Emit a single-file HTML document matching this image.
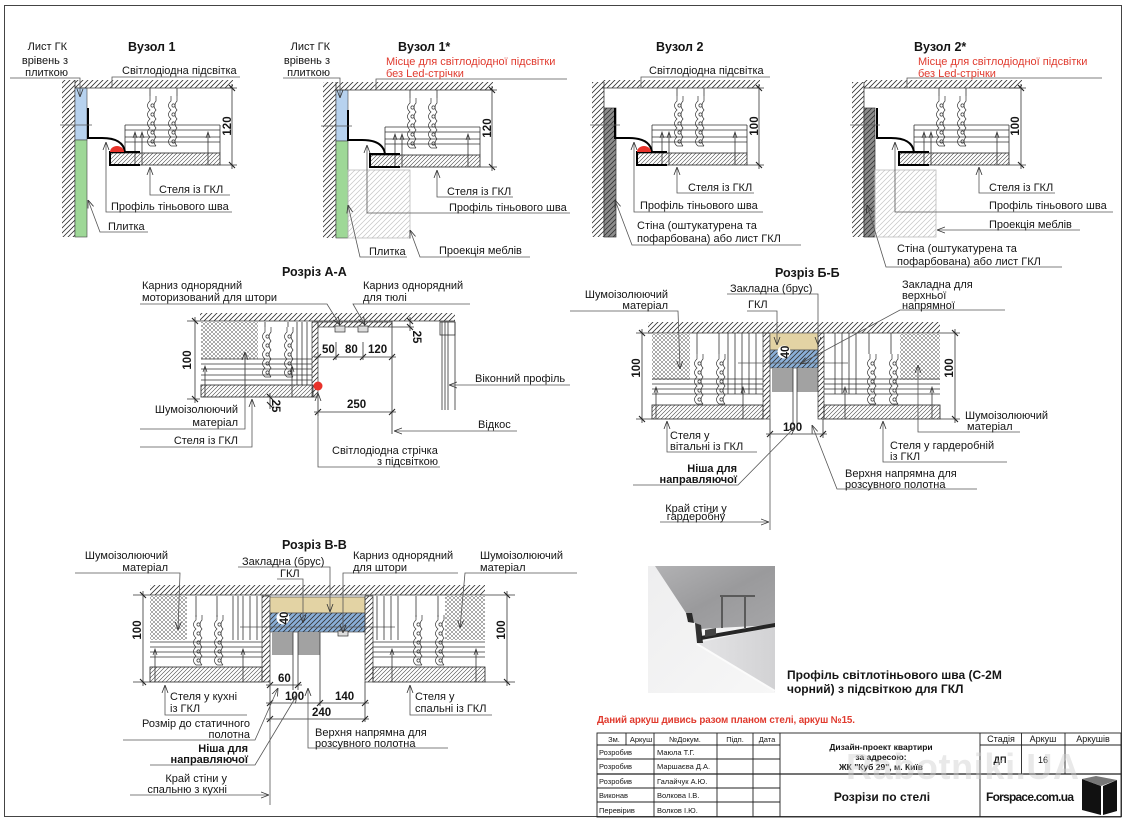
<!DOCTYPE html>
<html><head><meta charset="utf-8"><title>Розрізи по стелі</title>
<style>
html,body{margin:0;padding:0;background:#fff;width:1126px;height:821px;overflow:hidden}
svg{display:block}
text{font-family:"Liberation Sans",Arial,sans-serif;fill:#151515}
.t{font-size:11px}
.b{font-size:12.5px;font-weight:bold}
.r{font-size:11px;fill:#e03a2e}
.d{font-size:11.5px;font-weight:bold}
.s{font-size:7.5px}
.ln{fill:none;stroke:#333;stroke-width:0.8}
.l{fill:none;stroke:#555;stroke-width:0.8}
</style></head><body>
<svg width="1126" height="821" viewBox="0 0 1126 821" xmlns="http://www.w3.org/2000/svg">
<defs>
<pattern id="h" width="5" height="5" patternUnits="userSpaceOnUse"><path d="M0,5L5,0M-1,1L1,-1M4,6L6,4" stroke="#333" stroke-width="0.8"/></pattern>
<pattern id="hf" width="4" height="4" patternUnits="userSpaceOnUse"><path d="M0,4L4,0M-1,1L1,-1M3,5L5,3" stroke="#444" stroke-width="0.6"/></pattern>
<pattern id="hl" width="5" height="5" patternUnits="userSpaceOnUse"><path d="M0,5L5,0M-1,1L1,-1M4,6L6,4" stroke="#c4c4c4" stroke-width="0.7"/></pattern>
<pattern id="x" width="4" height="4" patternUnits="userSpaceOnUse"><path d="M0,4L4,0M0,0L4,4" stroke="#555" stroke-width="0.5"/></pattern>
<linearGradient id="cg" x1="0" y1="0" x2="1" y2="1"><stop offset="0" stop-color="#b2b2b4"/><stop offset="0.5" stop-color="#9a9a9c"/><stop offset="1" stop-color="#a6a6a8"/></linearGradient>
<linearGradient id="pg" x1="0" y1="0" x2="1" y2="0"><stop offset="0" stop-color="#e4e4e6"/><stop offset="1" stop-color="#d2d2d4"/></linearGradient>
<linearGradient id="wg" x1="0" y1="0" x2="1" y2="1"><stop offset="0" stop-color="#eeeeef"/><stop offset="1" stop-color="#f7f7f7"/></linearGradient>
<marker id="a" viewBox="0 0 8 8" refX="8" refY="4" markerWidth="8" markerHeight="8" orient="auto" markerUnits="userSpaceOnUse"><path d="M0,1L8,4L0,7" fill="none" stroke="#333" stroke-width="0.8"/></marker>
<marker id="k" viewBox="-4 -4 8 8" refX="0" refY="0" markerWidth="8" markerHeight="8" orient="auto" markerUnits="userSpaceOnUse"><path d="M-3,3L3,-3" stroke="#222" stroke-width="1.1"/></marker>
<g id="sp" fill="none" stroke="#333" stroke-width="0.7">
<path d="M4,0V5q-5,4.5 0,9q-5,4.5 0,9q-5,4.5 0,9q-5,4.5 0,9q-5,4.5 0,9V50"/>
<path d="M10,0V5q-4,4.5 0,9q-4,4.5 0,9q-4,4.5 0,9q-4,4.5 0,9q-4,4.5 0,9V50"/>
<circle cx="6.5" cy="9.5" r="1.6"/><circle cx="6.5" cy="18.5" r="1.6"/><circle cx="6.5" cy="27.5" r="1.6"/><circle cx="6.5" cy="36.5" r="1.6"/><circle cx="6.5" cy="45.5" r="1.6"/>
<path d="M4,50H10"/>
</g>
<g id="ni">
<rect x="-35" y="-8" width="158" height="8" fill="url(#h)"/>
<line x1="-35" y1="0" x2="123" y2="0" class="ln"/>
<path d="M40,0V8M67,0V8" class="ln"/>
<use href="#sp" x="36" y="8"/>
<use href="#sp" x="57" y="8"/>
<path d="M15,37H110M15,42H110M15,49H110M15,54H110M15,37V64M110,37V65" class="ln"/>
<rect x="0" y="65" width="110" height="12" fill="url(#hf)" stroke="#222" stroke-width="0.8"/>
<path d="M25,45V77M32,45V77M98,45V77" class="ln"/>
<path d="M23,50L25,44L27,50M30,50L32,44L34,50M96,50L98,44L100,50" fill="none" stroke="#333" stroke-width="0.7"/>
<path d="M-22,20V50H-8Q13,50 15,64H0V77H30M0,64H30" fill="none" stroke="#000" stroke-width="2"/>
<path d="M110,0H127M110,77H127" class="ln"/>
<polyline points="122,-4 122,0 122,77 122,81" class="ln" marker-mid="url(#k)"/>
</g>
</defs>

<!-- page frame -->
<rect x="4.5" y="5.5" width="1117" height="811" fill="none" stroke="#444" stroke-width="1"/>

<!-- ============ Вузол 1 ============ -->
<rect x="62" y="80" width="13" height="157" fill="url(#h)"/>
<line x1="75" y1="80" x2="75" y2="237" class="ln"/>
<rect x="75" y="88" width="12" height="52" fill="#b7d2ef" stroke="#444" stroke-width="0.6"/>
<rect x="75" y="140" width="12" height="97" fill="#9ed897" stroke="#444" stroke-width="0.6"/>
<use href="#ni" x="110" y="88"/>
<path d="M110,152 a7,6 0 0 1 14,0 z" fill="#e8322a"/>
<line x1="60" y1="125" x2="92" y2="125" class="l"/>
<polyline points="10,78 80,78 80,97" class="l" marker-end="url(#a)"/>
<polyline points="240,77 112,77 112,88" class="l"/>
<polyline points="230,195 150,195 150,167" class="l" marker-end="url(#a)"/>
<polyline points="232,212 106,212 106,142" class="l" marker-end="url(#a)"/>
<polyline points="148,232 100,232 88,200" class="l" marker-end="url(#a)"/>
<text x="67" y="50" class="t" text-anchor="end">Лист ГК</text>
<text x="68" y="64" class="t" text-anchor="end">врівень з</text>
<text x="68" y="76" class="t" text-anchor="end">плиткою</text>
<text x="128" y="51" class="b">Вузол 1</text>
<text x="122" y="74" class="t">Світлодіодна підсвітка</text>
<text x="159" y="193" class="t">Стеля із ГКЛ</text>
<text x="111" y="210" class="t">Профіль тіньового шва</text>
<text x="108" y="230" class="t">Плитка</text>
<text transform="translate(231,126) rotate(-90)" text-anchor="middle" class="d">120</text>

<!-- ============ Вузол 1* ============ -->
<rect x="323" y="82" width="13" height="156" fill="url(#h)"/>
<line x1="336" y1="82" x2="336" y2="238" class="ln"/>
<rect x="336" y="90" width="12" height="51" fill="#b7d2ef" stroke="#444" stroke-width="0.6"/>
<rect x="336" y="141" width="12" height="97" fill="#9ed897" stroke="#444" stroke-width="0.6"/>
<rect x="348" y="170" width="62" height="68" fill="url(#hl)" stroke="#bbb" stroke-width="0.8"/>
<use href="#ni" x="370" y="90"/>
<line x1="321" y1="126" x2="352" y2="126" class="l"/>
<polyline points="283,78 340,78 340,98" class="l" marker-end="url(#a)"/>
<polyline points="567,79 376,79 376,90" class="l"/>
<polyline points="513,197 437,197 437,170" class="l" marker-end="url(#a)"/>
<polyline points="570,213 367,213 367,145" class="l" marker-end="url(#a)"/>
<polyline points="407,257 360,257 348,205" class="l" marker-end="url(#a)"/>
<polyline points="530,257 420,257 410,230" class="l" marker-end="url(#a)"/>
<text x="330" y="50" class="t" text-anchor="end">Лист ГК</text>
<text x="330" y="64" class="t" text-anchor="end">врівень з</text>
<text x="330" y="76" class="t" text-anchor="end">плиткою</text>
<text x="398" y="51" class="b">Вузол 1*</text>
<text x="386" y="65" class="r">Місце для світлодіодної підсвітки</text>
<text x="386" y="77" class="r">без Led-стрічки</text>
<text x="447" y="195" class="t">Стеля із ГКЛ</text>
<text x="449" y="211" class="t">Профіль тіньового шва</text>
<text x="369" y="255" class="t">Плитка</text>
<text x="439" y="254" class="t">Проекція меблів</text>
<text transform="translate(491,128) rotate(-90)" text-anchor="middle" class="d">120</text>

<!-- ============ Вузол 2 ============ -->
<rect x="592" y="82" width="12" height="155" fill="url(#h)"/>
<line x1="604" y1="82" x2="604" y2="237" class="ln"/>
<rect x="604" y="108" width="12" height="129" fill="#8d8d8d" stroke="#333" stroke-width="0.7"/>
<rect x="604" y="108" width="12" height="129" fill="url(#h)"/>
<use href="#ni" x="637" y="88"/>
<path d="M637,152 a7,6 0 0 1 14,0 z" fill="#e8322a"/>
<line x1="590" y1="125" x2="620" y2="125" class="l"/>
<polyline points="770,77 641,77 641,88" class="l"/>
<polyline points="754,193 677,193 677,167" class="l" marker-end="url(#a)"/>
<polyline points="763,212 634,212 634,142" class="l" marker-end="url(#a)"/>
<polyline points="801,245 632,245 615,200" class="l" marker-end="url(#a)"/>
<text x="656" y="51" class="b">Вузол 2</text>
<text x="649" y="74" class="t">Світлодіодна підсвітка</text>
<text x="688" y="191" class="t">Стеля із ГКЛ</text>
<text x="640" y="209" class="t">Профіль тіньового шва</text>
<text x="637" y="229" class="t">Стіна (оштукатурена та</text>
<text x="637" y="242" class="t">пофарбована) або лист ГКЛ</text>
<text transform="translate(758,126) rotate(-90)" text-anchor="middle" class="d">100</text>

<!-- ============ Вузол 2* ============ -->
<rect x="852" y="82" width="12" height="155" fill="url(#h)"/>
<line x1="864" y1="82" x2="864" y2="237" class="ln"/>
<rect x="864" y="108" width="11" height="129" fill="#8d8d8d" stroke="#333" stroke-width="0.7"/>
<rect x="864" y="108" width="11" height="129" fill="url(#h)"/>
<rect x="875" y="170" width="61" height="67" fill="url(#hl)" stroke="#bbb" stroke-width="0.8"/>
<use href="#ni" x="899" y="88"/>
<line x1="850" y1="125" x2="880" y2="125" class="l"/>
<polyline points="1102,78 907,78 907,88" class="l"/>
<polyline points="1055,193 979,193 979,167" class="l" marker-end="url(#a)"/>
<polyline points="1113,212 895,212 895,142" class="l" marker-end="url(#a)"/>
<polyline points="1080,230 937,230" class="l" marker-end="url(#a)"/>
<polyline points="1062,267 886,267 867,205" class="l" marker-end="url(#a)"/>
<text x="914" y="51" class="b">Вузол 2*</text>
<text x="918" y="65" class="r">Місце для світлодіодної підсвітки</text>
<text x="918" y="77" class="r">без Led-стрічки</text>
<text x="989" y="191" class="t">Стеля із ГКЛ</text>
<text x="989" y="209" class="t">Профіль тіньового шва</text>
<text x="989" y="228" class="t">Проекція меблів</text>
<text x="897" y="252" class="t">Стіна (оштукатурена та</text>
<text x="897" y="265" class="t">пофарбована) або лист ГКЛ</text>
<text transform="translate(1019,126) rotate(-90)" text-anchor="middle" class="d">100</text>

<!-- ============ Розріз А-А ============ -->
<text x="282" y="276" class="b">Розріз А-А</text>
<rect x="200" y="313" width="255" height="8" fill="url(#h)"/>
<line x1="200" y1="321" x2="455" y2="321" class="ln"/>
<path d="M187,321H200M187,399H200" class="ln"/>
<polyline points="195,317 195,321 195,399 195,403" class="ln" marker-mid="url(#k)"/>
<text transform="translate(191,360) rotate(-90)" text-anchor="middle" class="d">100</text>
<rect x="201" y="322" width="57" height="37" fill="url(#x)"/>
<path d="M265,322V327M288,322V327" class="ln"/>
<use href="#sp" x="261" y="327"/>
<use href="#sp" x="283" y="327"/>
<path d="M297,322V385M302,322V385M307,322V385" class="ln"/>
<path d="M201,359H312M201,364H312M201,369H312M201,375H312M201,380H312" class="ln"/>
<rect x="201" y="385" width="112" height="12" fill="url(#hf)" stroke="#222" stroke-width="0.8"/>
<rect x="312" y="322" width="6" height="75" fill="url(#h)" stroke="#333" stroke-width="0.7"/>
<path d="M205,367V397M245,352V397M292,367V397" class="ln"/>
<path d="M203,372L205,366L207,372M290,372L292,366L294,372" fill="none" stroke="#333" stroke-width="0.7"/>
<rect x="318" y="322" width="74" height="5" fill="url(#h)" stroke="#333" stroke-width="0.7"/>
<rect x="335" y="326" width="10" height="6" fill="#ddd" stroke="#333" stroke-width="0.7"/>
<rect x="358" y="326" width="10" height="6" fill="#ddd" stroke="#333" stroke-width="0.7"/>
<circle cx="318" cy="386" r="4.5" fill="#e8322a"/>
<polyline points="314,357 318,357 336,357 363,357 392,357 396,357" class="ln" marker-mid="url(#k)"/>
<path d="M336,342V360M363,342V360" class="ln"/>
<text x="322" y="353" class="d">50</text>
<text x="345" y="353" class="d">80</text>
<text x="368" y="353" class="d">120</text>
<line x1="392" y1="321" x2="392" y2="434" class="ln"/>
<path d="M392,327H414" class="ln"/>
<polyline points="410,317 410,321 410,327 410,331" class="ln" marker-mid="url(#k)"/>
<text transform="translate(413,337) rotate(90)" text-anchor="middle" class="d">25</text>
<rect x="440" y="322" width="15" height="13" fill="none" stroke="#333" stroke-width="0.8"/>
<path d="M442,322V410M445,322V410M448,322V410M455,322V410" class="ln"/>
<polyline points="570,385 449,385" class="l" marker-end="url(#a)"/>
<text x="475" y="382" class="t">Віконний профіль</text>
<polyline points="314,412 318,412 392,412 396,412" class="ln" marker-mid="url(#k)"/>
<line x1="318" y1="397" x2="318" y2="416" class="ln"/>
<text x="347" y="408" class="d">250</text>
<polyline points="517,431 394,431" class="l" marker-end="url(#a)"/>
<text x="478" y="428" class="t">Відкос</text>
<polyline points="440,467 318,467 318,393" class="l" marker-end="url(#a)"/>
<text x="332" y="454" class="t">Світлодіодна стрічка</text>
<text x="377" y="465" class="t">з підсвіткою</text>
<polyline points="270,393 270,397 270,405 270,409" class="ln" marker-mid="url(#k)"/>
<text transform="translate(272,406) rotate(90)" text-anchor="middle" class="d">25</text>
<polyline points="140,429 245,429 245,352" class="l" marker-end="url(#a)"/>
<text x="238" y="413" class="t" text-anchor="end">Шумоізолюючий</text>
<text x="238" y="426" class="t" text-anchor="end">матеріал</text>
<polyline points="140,447 252,447 252,399" class="l" marker-end="url(#a)"/>
<text x="238" y="444" class="t" text-anchor="end">Стеля із ГКЛ</text>
<polyline points="140,304 327,304 340,325" class="l" marker-end="url(#a)"/>
<text x="142" y="289" class="t">Карниз однорядний</text>
<text x="142" y="301" class="t">моторизований для штори</text>
<polyline points="470,304 353,304 365,325" class="l" marker-end="url(#a)"/>
<text x="363" y="289" class="t">Карниз однорядний</text>
<text x="363" y="301" class="t">для тюлі</text>

<!-- ============ Розріз Б-Б ============ -->
<text x="775" y="277" class="b">Розріз Б-Б</text>
<rect x="648" y="322" width="292" height="11" fill="url(#h)"/>
<line x1="648" y1="333" x2="940" y2="333" class="ln"/>
<path d="M636,333H652M636,419H652" class="ln"/>
<polyline points="642,329 642,333 642,419 642,423" class="ln" marker-mid="url(#k)"/>
<text transform="translate(640,368) rotate(-90)" text-anchor="middle" class="d">100</text>
<path d="M940,333H960M940,419H960" class="ln"/>
<polyline points="955,329 955,333 955,419 955,423" class="ln" marker-mid="url(#k)"/>
<text transform="translate(953,368) rotate(-90)" text-anchor="middle" class="d">100</text>
<rect x="652" y="334" width="38" height="46" fill="url(#x)"/>
<path d="M697,333V354M719,333V354" class="ln"/>
<use href="#sp" x="693" y="354"/>
<use href="#sp" x="715" y="354"/>
<path d="M728,333V394M735,333V394M742,333V394M749,333V394M756,333V394" class="ln"/>
<path d="M652,379H763M652,384H763M652,389H763M652,394H763" class="ln"/>
<rect x="652" y="405" width="111" height="14" fill="url(#hf)" stroke="#222" stroke-width="0.8"/>
<path d="M656,388V419M743,388V419" class="ln"/>
<path d="M654,393L656,387L658,393M741,393L743,387L745,393" fill="none" stroke="#333" stroke-width="0.7"/>
<rect x="763" y="333" width="7" height="86" fill="url(#h)" stroke="#333" stroke-width="0.7"/>
<rect x="770" y="333" width="48" height="17" fill="#e3d3a4" stroke="#555" stroke-width="0.7"/>
<rect x="770" y="350" width="48" height="18" fill="#8aafd8" stroke="#555" stroke-width="0.7"/>
<rect x="770" y="350" width="48" height="18" fill="url(#h)"/>
<rect x="772" y="368" width="21" height="24" fill="#a2a2a2"/>
<rect x="797" y="368" width="21" height="24" fill="#a2a2a2"/>
<path d="M793,368V425M797,368V425" class="ln"/>
<line x1="738" y1="363" x2="848" y2="363" class="l"/>
<circle cx="784" cy="352" r="6.5" fill="#fff"/>
<text transform="translate(789,352) rotate(-90)" text-anchor="middle" class="d">40</text>
<rect x="818" y="333" width="6" height="86" fill="url(#h)" stroke="#333" stroke-width="0.7"/>
<path d="M869,333V354M891,333V354" class="ln"/>
<use href="#sp" x="866" y="354"/>
<use href="#sp" x="888" y="354"/>
<path d="M835,333V394M842,333V394M849,333V394M856,333V394" class="ln"/>
<path d="M824,379H940M824,384H940M824,389H940M824,394H940" class="ln"/>
<rect x="900" y="334" width="40" height="46" fill="url(#x)"/>
<rect x="824" y="405" width="116" height="14" fill="url(#hf)" stroke="#222" stroke-width="0.8"/>
<path d="M845,388V419M932,388V419" class="ln"/>
<path d="M843,393L845,387L847,393M930,393L932,387L934,393" fill="none" stroke="#333" stroke-width="0.7"/>
<path d="M770,419V438M823,419V438" class="ln"/>
<polyline points="766,434 770,434 823,434 827,434" class="ln" marker-mid="url(#k)"/>
<text x="783" y="431" class="d">100</text>
<polyline points="570,311 678,311 680,369" class="l" marker-end="url(#a)"/>
<text x="668" y="298" class="t" text-anchor="end">Шумоізолюючий</text>
<text x="668" y="309" class="t" text-anchor="end">матеріал</text>
<polyline points="727,294 818,294 818,345" class="l" marker-end="url(#a)"/>
<text x="730" y="292" class="t">Закладна (брус)</text>
<polyline points="747,311 777,311 777,345" class="l" marker-end="url(#a)"/>
<text x="748" y="308" class="t">ГКЛ</text>
<polyline points="1005,310 900,310 800,364" class="l" marker-end="url(#a)"/>
<text x="902" y="288" class="t">Закладна для</text>
<text x="902" y="299" class="t">верхньої</text>
<text x="902" y="309" class="t">напрямної</text>
<polyline points="1020,432 918,432 918,365" class="l" marker-end="url(#a)"/>
<text x="965" y="419" class="t">Шумоізолюючий</text>
<text x="967" y="430" class="t">матеріал</text>
<polyline points="757,452 667,452 667,421" class="l" marker-end="url(#a)"/>
<text x="670" y="439" class="t">Стеля у</text>
<text x="670" y="450" class="t">вітальні із ГКЛ</text>
<polyline points="1007,462 883,462 883,421" class="l" marker-end="url(#a)"/>
<text x="890" y="449" class="t">Стеля у гардеробній</text>
<text x="890" y="460" class="t">із ГКЛ</text>
<polyline points="633,485 738,485 795,427" class="l" marker-end="url(#a)"/>
<text x="737" y="472" class="t" text-anchor="end" font-weight="bold">Ніша для</text>
<text x="737" y="483" class="t" text-anchor="end" font-weight="bold">направляючої</text>
<polyline points="977,489 837,489 812,425" class="l" marker-end="url(#a)"/>
<text x="845" y="477" class="t">Верхня напрямна для</text>
<text x="845" y="488" class="t">розсувного полотна</text>
<line x1="770" y1="419" x2="770" y2="530" class="l"/>
<polyline points="660,522 769,522" class="l" marker-end="url(#a)"/>
<text x="696" y="512" class="t" text-anchor="middle">Край стіни у</text>
<text x="696" y="520" class="t" text-anchor="middle">гардеробну</text>

<!-- ============ Розріз В-В ============ -->
<text x="282" y="549" class="b">Розріз В-В</text>
<rect x="150" y="585" width="335" height="10" fill="url(#h)"/>
<line x1="150" y1="595" x2="485" y2="595" class="ln"/>
<path d="M133,595H150M133,682H150" class="ln"/>
<polyline points="143,591 143,595 143,682 143,686" class="ln" marker-mid="url(#k)"/>
<text transform="translate(141,630) rotate(-90)" text-anchor="middle" class="d">100</text>
<path d="M485,595H515M485,682H515" class="ln"/>
<polyline points="507,591 507,595 507,682 507,686" class="ln" marker-mid="url(#k)"/>
<text transform="translate(505,630) rotate(-90)" text-anchor="middle" class="d">100</text>
<rect x="150" y="596" width="37" height="44" fill="url(#x)"/>
<path d="M196,596V617M217,596V617" class="ln"/>
<use href="#sp" x="192" y="615"/>
<use href="#sp" x="213" y="615"/>
<path d="M233,596V640M238,596V640M243,596V640M250,596V640M257,596V640" class="ln"/>
<path d="M150,642H262M150,647H262M150,652H262M150,657H262" class="ln"/>
<rect x="150" y="667" width="112" height="15" fill="url(#hf)" stroke="#222" stroke-width="0.8"/>
<path d="M155,650V682M243,650V682" class="ln"/>
<path d="M153,655L155,649L157,655M241,655L243,649L245,655" fill="none" stroke="#333" stroke-width="0.7"/>
<rect x="262" y="596" width="8" height="86" fill="url(#h)" stroke="#333" stroke-width="0.7"/>
<rect x="270" y="597" width="95" height="16" fill="#e3d3a4" stroke="#555" stroke-width="0.7"/>
<rect x="270" y="613" width="95" height="19" fill="#8aafd8" stroke="#555" stroke-width="0.7"/>
<rect x="270" y="613" width="95" height="19" fill="url(#h)"/>
<rect x="338" y="631" width="10" height="5" fill="#ddd" stroke="#333" stroke-width="0.7"/>
<rect x="272" y="632" width="21" height="23" fill="#a2a2a2"/>
<rect x="298" y="632" width="22" height="23" fill="#a2a2a2"/>
<path d="M293,632V690M298,632V690M320,632V706" class="ln"/>
<line x1="240" y1="627" x2="395" y2="627" class="l"/>
<circle cx="283" cy="618" r="6.5" fill="#fff"/>
<text transform="translate(288,618) rotate(-90)" text-anchor="middle" class="d">40</text>
<rect x="365" y="596" width="8" height="86" fill="url(#h)" stroke="#333" stroke-width="0.7"/>
<path d="M416,596V617M438,596V617" class="ln"/>
<use href="#sp" x="412" y="615"/>
<use href="#sp" x="434" y="615"/>
<path d="M377,596V640M384,596V640M391,596V640M398,596V640" class="ln"/>
<path d="M373,642H485M373,647H485M373,652H485M373,657H485" class="ln"/>
<rect x="445" y="596" width="40" height="44" fill="url(#x)"/>
<rect x="373" y="667" width="112" height="15" fill="url(#hf)" stroke="#222" stroke-width="0.8"/>
<path d="M392,650V682M476,650V682" class="ln"/>
<path d="M390,655L392,649L394,655M474,655L476,649L478,655" fill="none" stroke="#333" stroke-width="0.7"/>
<path d="M270,682V722M365,682V722" class="ln"/>
<polyline points="266,685 270,685 298,685 302,685" class="ln" marker-mid="url(#k)"/>
<text x="278" y="682" class="d">60</text>
<polyline points="266,703 270,703 320,703 365,703 369,703" class="ln" marker-mid="url(#k)"/>
<text x="285" y="700" class="d">100</text>
<text x="335" y="700" class="d">140</text>
<polyline points="266,719 270,719 365,719 369,719" class="ln" marker-mid="url(#k)"/>
<text x="312" y="716" class="d">240</text>
<polyline points="75,573 180,573 178,630" class="l" marker-end="url(#a)"/>
<text x="168" y="559" class="t" text-anchor="end">Шумоізолюючий</text>
<text x="168" y="571" class="t" text-anchor="end">матеріал</text>
<polyline points="238,567 330,567 330,612" class="l" marker-end="url(#a)"/>
<text x="242" y="565" class="t">Закладна (брус)</text>
<polyline points="277,579 303,579 303,623" class="l" marker-end="url(#a)"/>
<text x="280" y="577" class="t">ГКЛ</text>
<polyline points="458,573 343,573 343,633" class="l" marker-end="url(#a)"/>
<text x="353" y="559" class="t">Карниз однорядний</text>
<text x="353" y="571" class="t">для штори</text>
<polyline points="577,573 465,573 460,628" class="l" marker-end="url(#a)"/>
<text x="480" y="559" class="t">Шумоізолюючий</text>
<text x="480" y="571" class="t">матеріал</text>
<polyline points="247,715 165,715 165,685" class="l" marker-end="url(#a)"/>
<text x="170" y="700" class="t">Стеля у кухні</text>
<text x="170" y="712" class="t">із ГКЛ</text>
<polyline points="492,715 410,715 410,685" class="l" marker-end="url(#a)"/>
<text x="415" y="700" class="t">Стеля у</text>
<text x="415" y="712" class="t">спальні із ГКЛ</text>
<polyline points="123,740 255,740 278,688" class="l" marker-end="url(#a)"/>
<text x="250" y="727" class="t" text-anchor="end">Розмір до статичного</text>
<text x="250" y="738" class="t" text-anchor="end">полотна</text>
<polyline points="150,765 255,765 297,695" class="l" marker-end="url(#a)"/>
<text x="248" y="752" class="t" text-anchor="end" font-weight="bold">Ніша для</text>
<text x="248" y="763" class="t" text-anchor="end" font-weight="bold">направляючої</text>
<polyline points="448,748 308,748 308,688" class="l" marker-end="url(#a)"/>
<text x="315" y="736" class="t">Верхня напрямна для</text>
<text x="315" y="747" class="t">розсувного полотна</text>
<line x1="270" y1="682" x2="270" y2="805" class="l"/>
<polyline points="130,795 269,795" class="l" marker-end="url(#a)"/>
<text x="227" y="782" class="t" text-anchor="end">Край стіни у</text>
<text x="227" y="793" class="t" text-anchor="end">спальню з кухні</text>

<!-- ============ Photo ============ -->
<rect x="648" y="566" width="127" height="127" fill="url(#wg)"/>
<polygon points="655,566 775,566 775,625 716,628 700,630 686,613" fill="url(#cg)"/>
<polygon points="686,613 700,629 716,628 704,634 692,624" fill="#f6f6f6"/>
<polygon points="697,643 775,626 775,692" fill="url(#pg)"/>
<polygon points="686,613 692,613 694,623 688,622" fill="#2a2a2a"/>
<polygon points="695,623 701,625 703,643 697,643" fill="#303030"/>
<polygon points="701,636 775,623 775,627 701,640" fill="#262626"/>
<polygon points="705,630 716,628 716,635 705,637" fill="#444"/>
<path d="M720,596H755M722,596V628M745,596V628" stroke="#5a5a5a" stroke-width="2" fill="none"/>
<line x1="697" y1="644" x2="775" y2="691" stroke="#fbfbfb" stroke-width="2"/>
<text x="787" y="679" style="font-size:12px;font-weight:bold">Профіль світлотіньового шва  (С-2М</text>
<text x="787" y="693" style="font-size:12px;font-weight:bold">чорний) з підсвіткою для ГКЛ</text>

<!-- ============ Title block ============ -->
<text x="597" y="723" style="font-size:9.8px;font-weight:bold;fill:#e03a2e" textLength="258">Даний аркуш дивись разом планом стелі, аркуш №15.</text>
<g stroke="#222" stroke-width="0.9" fill="none">
<rect x="597" y="733" width="524" height="84"/>
<path d="M626,733V745M654,733V817M717,733V817M753,733V817M780,733V817M980,733V817M1021.5,733V774M1065,733V774"/>
<path d="M597,745H780M597,759H780M597,788H780M597,802H780M980,745H1121"/>
<path d="M597,774H1121" stroke-width="1.3"/>
</g>
<g class="s">
<text x="614" y="742" class="s" text-anchor="middle">Зм.</text>
<text x="641" y="742" class="s" text-anchor="middle">Аркуш</text>
<text x="685" y="742" class="s" text-anchor="middle">№Докум.</text>
<text x="735" y="742" class="s" text-anchor="middle">Підп.</text>
<text x="767" y="742" class="s" text-anchor="middle">Дата</text>
<text x="599" y="755" class="s">Розробив</text>
<text x="657" y="755" class="s">Маюла Т.Г.</text>
<text x="599" y="769" class="s">Розробив</text>
<text x="657" y="769" class="s">Маршаєва Д.А.</text>
<text x="599" y="784" class="s">Розробив</text>
<text x="657" y="784" class="s">Галайчук А.Ю.</text>
<text x="599" y="798" class="s">Виконав</text>
<text x="657" y="798" class="s">Волкова І.В.</text>
<text x="599" y="813" class="s">Перевірив</text>
<text x="657" y="813" class="s">Волков І.Ю.</text>
</g>
<text x="881" y="750" text-anchor="middle" style="font-size:8.5px;font-weight:bold">Дизайн-проект квартири</text>
<text x="881" y="760" text-anchor="middle" style="font-size:8.5px;font-weight:bold">за адресою:</text>
<text x="881" y="770" text-anchor="middle" style="font-size:8.5px;font-weight:bold">ЖК &quot;Куб 29&quot;, м. Київ</text>
<text x="882" y="801" text-anchor="middle" style="font-size:12px;font-weight:bold">Розрізи по стелі</text>
<text x="1001" y="742" text-anchor="middle" style="font-size:9px">Стадія</text>
<text x="1043" y="742" text-anchor="middle" style="font-size:9px">Аркуш</text>
<text x="1093" y="742" text-anchor="middle" style="font-size:9px">Аркушів</text>
<text x="1000" y="763" text-anchor="middle" style="font-size:9px;font-weight:bold">ДП</text>
<text x="1043" y="763" text-anchor="middle" style="font-size:9px">16</text>
<text x="986" y="801" style="font-size:12px;font-weight:bold" textLength="88">Forspace.com.ua</text>
<polygon points="1082,779 1101,786 1101,815 1082,810" fill="#111"/>
<polygon points="1103,786 1117,780 1117,811 1103,815" fill="#111"/>
<polygon points="1082,779 1096,776 1117,780 1101,786" fill="#777"/>
<text x="846" y="779" textLength="233" style="font-size:36px;font-weight:bold;fill:#cfcfcf;opacity:0.45">Rabotniki.UA</text>
</svg>
</body></html>
